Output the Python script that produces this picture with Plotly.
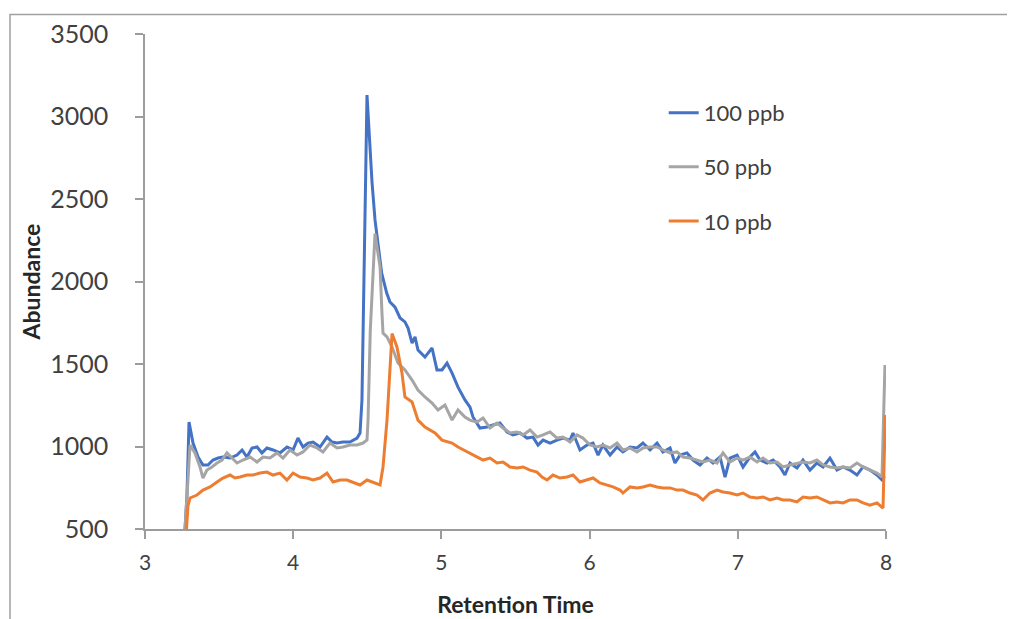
import plotly.graph_objects as go

# ---- data ----
x_100 = [3.270, 3.283, 3.297, 3.324, 3.358, 3.391, 3.425, 3.459, 3.493, 3.526, 3.574, 3.621, 3.655, 3.688,
         3.722, 3.756, 3.789, 3.823, 3.864, 3.911, 3.958, 3.999, 4.032, 4.066, 4.100, 4.134, 4.181, 4.228,
         4.262, 4.296, 4.336, 4.383, 4.431, 4.451, 4.464, 4.480, 4.498, 4.532, 4.552, 4.597, 4.631, 4.653,
         4.687, 4.721, 4.754, 4.775, 4.802, 4.822, 4.842, 4.889, 4.937, 4.970, 5.004, 5.038, 5.072, 5.112,
         5.159, 5.193, 5.213, 5.260, 5.308, 5.348, 5.395, 5.443, 5.483, 5.530, 5.578, 5.618, 5.652, 5.686,
         5.733, 5.780, 5.821, 5.868, 5.888, 5.935, 5.982, 6.023, 6.057, 6.090, 6.138, 6.185, 6.225, 6.273,
         6.320, 6.360, 6.408, 6.455, 6.495, 6.543, 6.576, 6.610, 6.657, 6.698, 6.745, 6.792, 6.833, 6.880,
         6.914, 6.947, 6.995, 7.035, 7.082, 7.116, 7.150, 7.197, 7.238, 7.285, 7.318, 7.352, 7.399, 7.440,
         7.487, 7.534, 7.575, 7.622, 7.669, 7.710, 7.757, 7.804, 7.845, 7.892, 7.939, 7.973, 7.990]
y_100 = [500, 700, 1148, 1021, 936, 888, 888, 918, 930, 936, 930, 948, 979, 936,
         991, 997, 961, 991, 979, 961, 997, 979, 1051, 997, 1021, 1027, 997, 1057,
         1027, 1021, 1027, 1027, 1051, 1082, 1282, 2200, 3130, 2600, 2373, 2051, 1930, 1876,
         1845, 1779, 1755, 1718, 1627, 1664, 1585, 1542, 1597, 1464, 1464, 1506, 1445, 1360,
         1282, 1239, 1179, 1112, 1118, 1130, 1142, 1088, 1070, 1082, 1051, 1057, 1009, 1039,
         1021, 1039, 1051, 1039, 1082, 979, 1009, 1021, 948, 1009, 948, 997, 967, 997,
         991, 1021, 979, 1021, 967, 991, 900, 948, 961, 918, 888, 930, 900, 936,
         815, 930, 948, 876, 936, 967, 918, 900, 918, 876, 827, 900, 870, 918,
         857, 900, 876, 930, 857, 876, 857, 827, 876, 857, 827, 797, 820]

x_50 = [3.270, 3.290, 3.304, 3.337, 3.371, 3.391, 3.418, 3.452, 3.486, 3.520, 3.553, 3.587, 3.621, 3.661,
        3.709, 3.756, 3.796, 3.843, 3.891, 3.931, 3.978, 4.026, 4.066, 4.113, 4.161, 4.201, 4.248, 4.296,
        4.336, 4.383, 4.431, 4.471, 4.498, 4.505, 4.520, 4.552, 4.586, 4.599, 4.606, 4.633, 4.667, 4.707,
        4.754, 4.802, 4.842, 4.889, 4.937, 4.977, 5.024, 5.072, 5.112, 5.159, 5.193, 5.240, 5.281, 5.328,
        5.375, 5.416, 5.463, 5.510, 5.551, 5.598, 5.645, 5.686, 5.733, 5.780, 5.821, 5.868, 5.915, 5.955,
        6.003, 6.050, 6.090, 6.138, 6.185, 6.225, 6.273, 6.320, 6.360, 6.408, 6.455, 6.495, 6.543, 6.590,
        6.630, 6.677, 6.725, 6.765, 6.812, 6.860, 6.900, 6.947, 6.995, 7.035, 7.082, 7.130, 7.170, 7.217,
        7.265, 7.305, 7.352, 7.399, 7.440, 7.487, 7.534, 7.575, 7.622, 7.669, 7.710, 7.757, 7.804, 7.845,
        7.892, 7.939, 7.973, 7.993]
y_50 = [500, 850, 1009, 961, 876, 809, 857, 876, 900, 918, 961, 930, 900, 918,
        936, 906, 936, 930, 961, 930, 979, 948, 967, 1009, 991, 967, 1021, 991,
        997, 1009, 1009, 1021, 1039, 1160, 1700, 2290, 2088, 1809, 1688, 1664, 1603, 1506,
        1464, 1403, 1342, 1300, 1263, 1221, 1251, 1160, 1221, 1179, 1160, 1148, 1173, 1112,
        1142, 1112, 1082, 1088, 1070, 1100, 1057, 1070, 1088, 1051, 1057, 1027, 1070, 1051,
        1009, 997, 1009, 991, 1021, 979, 991, 967, 991, 997, 997, 979, 961, 967,
        936, 930, 918, 906, 918, 900, 961, 906, 930, 918, 936, 906, 930, 900,
        906, 876, 888, 900, 906, 900, 918, 888, 876, 870, 876, 870, 900, 876,
        857, 839, 815, 1494]

x_10 = [3.280, 3.290, 3.304, 3.351, 3.391, 3.439, 3.486, 3.526, 3.574, 3.607, 3.641, 3.688, 3.729, 3.776,
        3.823, 3.864, 3.911, 3.958, 3.999, 4.046, 4.093, 4.134, 4.181, 4.228, 4.269, 4.316, 4.363, 4.404,
        4.451, 4.498, 4.538, 4.586, 4.606, 4.633, 4.667, 4.700, 4.734, 4.754, 4.802, 4.842, 4.889, 4.957,
        5.004, 5.072, 5.112, 5.180, 5.240, 5.281, 5.328, 5.375, 5.416, 5.463, 5.510, 5.551, 5.598, 5.645,
        5.679, 5.713, 5.753, 5.800, 5.848, 5.888, 5.935, 5.982, 6.023, 6.070, 6.117, 6.158, 6.205, 6.225,
        6.273, 6.320, 6.360, 6.408, 6.455, 6.495, 6.543, 6.590, 6.630, 6.677, 6.725, 6.765, 6.812, 6.860,
        6.900, 6.947, 6.995, 7.035, 7.082, 7.130, 7.170, 7.217, 7.265, 7.305, 7.352, 7.399, 7.440, 7.487,
        7.534, 7.575, 7.622, 7.669, 7.710, 7.757, 7.804, 7.845, 7.892, 7.939, 7.980, 7.995]
y_10 = [500, 640, 688, 706, 736, 755, 785, 809, 827, 809, 815, 827, 827, 839,
        845, 827, 839, 797, 839, 815, 809, 797, 809, 839, 785, 797, 797, 785,
        767, 797, 785, 767, 876, 1160, 1685, 1603, 1445, 1300, 1270, 1160, 1118, 1082,
        1039, 1021, 997, 967, 936, 918, 930, 900, 906, 876, 870, 876, 857, 845,
        815, 797, 827, 809, 815, 827, 785, 797, 809, 779, 767, 755, 736, 718,
        755, 749, 755, 767, 755, 749, 749, 736, 736, 718, 706, 676, 718, 736,
        724, 718, 706, 718, 694, 688, 694, 676, 688, 676, 676, 664, 694, 688,
        694, 676, 658, 664, 658, 676, 676, 658, 645, 658, 627, 1191]

series_names = ["100 ppb", "50 ppb", "10 ppb"]
series_colors = ["#4472C4", "#A5A5A5", "#ED7D31"]
x_ticks = [3, 4, 5, 6, 7, 8]
y_ticks = [500, 1000, 1500, 2000, 2500, 3000, 3500]

FONT = "Lato, 'Open Sans', sans-serif"
AXIS_COL = "#9c9c9c"
TXT_COL = "#404040"

fig = go.Figure()
for name, xs, ys, col in zip(series_names, [x_100, x_50, x_10], [y_100, y_50, y_10], series_colors):
    fig.add_trace(go.Scatter(x=xs, y=ys, mode="lines", name=name, legendgroup=name,
                             line=dict(color=col, width=3)))

# the page body has an 8px margin, so the canvas is 1007x611 placed at (8, 8)
fig.update_layout(
    width=1007, height=611,
    margin=dict(l=137, r=129, t=26, b=90, autoexpand=False),
    paper_bgcolor="white", plot_bgcolor="white",
    font=dict(family=FONT, color=TXT_COL),
    showlegend=True,
    legend=dict(x=0.70, y=0.883, xanchor="left", yanchor="top",
                font=dict(size=22, color=TXT_COL, family=FONT),
                tracegroupgap=22.5, bgcolor="rgba(0,0,0,0)", borderwidth=0),
    shapes=[dict(type="rect", xref="paper", yref="paper",
                 x0=(10 - 145) / 741, x1=(1030 - 145) / 741,
                 y0=(529 - 640) / 495, y1=(529 - 14.5) / 495,
                 line=dict(color="#a0a0a0", width=1.5), layer="below")],
)
fig.update_xaxes(range=[3, 8], tickvals=x_ticks, showgrid=False, zeroline=False,
                 showline=True, linecolor=AXIS_COL, linewidth=1.5,
                 ticks="outside", ticklen=8, tickwidth=1.5, tickcolor=AXIS_COL,
                 tickfont=dict(size=21, color=TXT_COL), ticklabelstandoff=6,
                 title=dict(text="<b>Retention Time</b>", font=dict(size=23, color="#262626"), standoff=24),
                 automargin=False)
fig.update_yaxes(range=[500, 3500], tickvals=y_ticks, showgrid=False, zeroline=False,
                 showline=True, linecolor=AXIS_COL, linewidth=1.5,
                 ticks="outside", ticklen=8, tickwidth=1.5, tickcolor=AXIS_COL,
                 tickfont=dict(size=25, color=TXT_COL), ticklabelstandoff=22,
                 title=dict(text="<b>Abundance</b>", font=dict(size=23, color="#262626"), standoff=3),
                 automargin=False)

fig.write_html("out.html")
